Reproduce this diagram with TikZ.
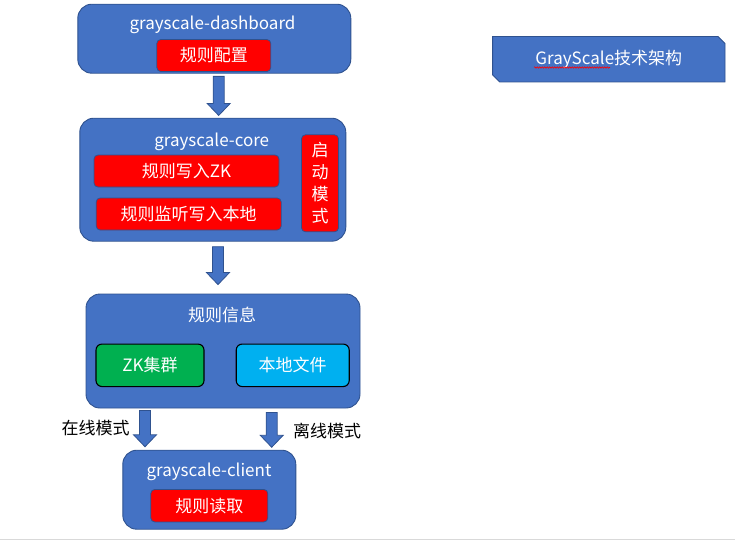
\documentclass[tikz,border=0pt]{standalone}
\usepackage{fontspec}
\setmainfont{Noto Sans CJK SC}
\usetikzlibrary{calc,backgrounds,decorations.pathmorphing}
\definecolor{layerblue}{HTML}{4472C4}
\definecolor{layerline}{HTML}{2F528F}
\definecolor{rulered}{HTML}{FF0000}
\definecolor{zkgreen}{HTML}{00B050}
\definecolor{filecyan}{HTML}{00B0F0}

\begin{document}
\begin{tikzpicture}[
    x=1pt, y=-1pt,
    every node/.style={font=\fontsize{17}{21}\selectfont, inner sep=0pt},
    layer/.style={draw=layerline, fill=layerblue, line width=0.9pt, rounded corners=14pt},
    rulebox/.style={draw=layerline, fill=rulered, line width=0.8pt, rounded corners=4pt, text=white},
    storebox/.style={draw=black, line width=1.1pt, rounded corners=6pt, text=white},
    head/.style={text=white},
    mode/.style={text=black},
    blockarrow/.style={draw=layerline, fill=layerblue, line width=0.8pt,
        to path={let \p1=(\tikztostart), \p2=(\tikztotarget) in
            (\x1-5.5pt,\y1) -- (\x1+5.5pt,\y1) -- (\x1+5.5pt,\y2+12pt) -- (\x1+11.5pt,\y2+12pt)
            -- (\x1,\y2) -- (\x1-11.5pt,\y2+12pt) -- (\x1-5.5pt,\y2+12pt) -- cycle}}
]
    \useasboundingbox (0,0) rectangle (735,542);

    % dashboard
    \node[layer, minimum width=273pt, minimum height=69pt] (dash) at (214.3,38.7) {};
    \node[head] (dashname) at (212.5,24.5) {grayscale-dashboard};
    \node[rulebox, minimum width=114pt, minimum height=32pt] (config) at (213.8,55.5) {规则配置};

    % core
    \node[layer, minimum width=266pt, minimum height=123pt] (core) at (212.8,179.7) {};
    \node[head] (corename) at (211.7,141.5) {grayscale-core};
    \node[rulebox, minimum width=185pt, minimum height=32pt] (writezk) at (186.5,171) {规则写入ZK};
    \node[rulebox, minimum width=185pt, minimum height=32pt] (writelocal) at (188.7,214) {规则监听写入本地};
    \node[rulebox, minimum width=37pt, minimum height=97pt, align=center,
          font=\fontsize{17}{22}\selectfont] (startmode) at (320,183.3) {启\\动\\模\\式};

    % rule info
    \node[layer, minimum width=274pt, minimum height=114pt] (info) at (223,351) {};
    \node[head] (infoname) at (222,315) {规则信息};
    \node[storebox, fill=zkgreen, minimum width=108pt, minimum height=42.5pt] (zk) at (150,365.3) {ZK集群};
    \node[storebox, fill=filecyan, minimum width=113pt, minimum height=42.5pt] (localfile) at (292.7,365.3) {本地文件};

    % client
    \node[layer, minimum width=173pt, minimum height=79pt] (client) at (209.3,489.7) {};
    \node[head] (clientname) at (209,471.5) {grayscale-client};
    \node[rulebox, minimum width=117pt, minimum height=32.5pt] (read) at (209.3,505.7) {规则读取};

    \node[mode] (online) at (95.7,428.5) {在线模式};
    \node[mode] (offline) at (327,430.5) {离线模式};

    \draw[blockarrow] ([xshift=4.4pt,yshift=-2.7pt]dash.south) to ([yshift=2.3pt]core.north);
    \draw[blockarrow] ([xshift=5.2pt,yshift=-5pt]core.south) to ([yshift=9pt]info.north);
    \draw[blockarrow] ([xshift=-78pt,yshift=-2pt]info.south) to ([yshift=3pt]client.north);
    \draw[blockarrow] ([xshift=48.7pt,yshift=-4pt]info.south) to ([yshift=2.5pt]client.north);

    % title
    \node[text=white, minimum width=232pt, minimum height=45pt] (title) at (608.8,59.2) {GrayScale技术架构};
    \begin{scope}[on background layer]
        \draw[layerline, fill=layerblue, line width=0.8pt] (title.north west)
            -- ([xshift=-7pt]title.north east) -- ([yshift=-7pt]title.north east)
            -- (title.south east) -- ([xshift=7pt]title.south west)
            -- ([yshift=7pt]title.south west) -- cycle;
    \end{scope}
    \draw[red, line width=0.6pt, decorate, decoration={snake, amplitude=0.7pt, segment length=2.5pt}]
        (534,67.5) -- (610,67.5);

    \draw[gray!30, line width=1.5pt] (0,539.5) -- (735,539.5);
\end{tikzpicture}
\end{document}
